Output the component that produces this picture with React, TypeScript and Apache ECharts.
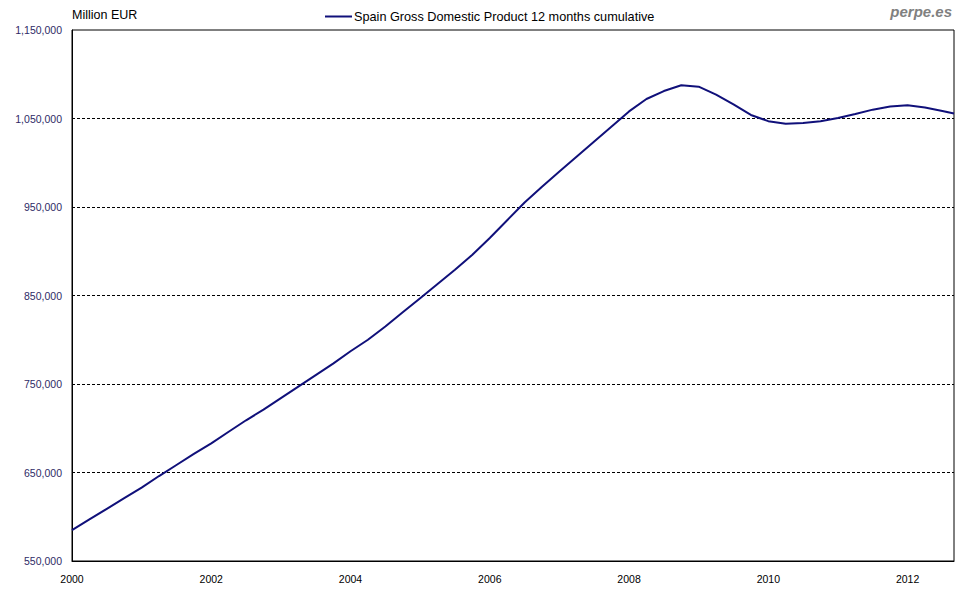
import React, { useEffect, useRef } from "react";
import * as echarts from "echarts";

// Decimal-year positions of the readings (quarterly, last one = Sep 2012)
const periods: number[] = [
  2000.0, 2000.25, 2000.5, 2000.75,
  2001.0, 2001.25, 2001.5, 2001.75,
  2002.0, 2002.25, 2002.5, 2002.75,
  2003.0, 2003.25, 2003.5, 2003.75,
  2004.0, 2004.25, 2004.5, 2004.75,
  2005.0, 2005.25, 2005.5, 2005.75,
  2006.0, 2006.25, 2006.5, 2006.75,
  2007.0, 2007.25, 2007.5, 2007.75,
  2008.0, 2008.25, 2008.5, 2008.75,
  2009.0, 2009.25, 2009.5, 2009.75,
  2010.0, 2010.25, 2010.5, 2010.75,
  2011.0, 2011.25, 2011.5, 2011.75,
  2012.0, 2012.25, 2012.5, 2012.667,
];

// Spain GDP, 12 months cumulative (Million EUR)
const gdp: number[] = [
  585000, 597000, 609000, 621000,
  633000, 646000, 658500, 671000,
  683000, 696000, 709000, 721000,
  734000, 747000, 760000, 773000,
  787000, 800000, 815000, 831000,
  847000, 863000, 879000, 896000,
  915000, 935000, 955000, 973000,
  990000, 1007000, 1024000, 1041000,
  1058000, 1072000, 1081000, 1087500,
  1086000, 1077000, 1066000, 1054000,
  1047000, 1044000, 1045000, 1047000,
  1050500, 1055000, 1060000, 1063500,
  1065000, 1062500, 1058500, 1055600,
];

const yLabelValues: number[] = [550000, 650000, 750000, 850000, 950000, 1050000, 1150000];
const gridValues: number[] = [650000, 750000, 850000, 950000, 1050000];
const xLabelYears: number[] = [2000, 2002, 2004, 2006, 2008, 2010, 2012];

const seriesName = "Spain Gross Domestic Product 12 months cumulative";
const unitLabel = "Million EUR";
const brand = "perpe.es";

const FONT = "'Liberation Sans', Arial, sans-serif";

export default function App() {
  const ref = useRef<HTMLDivElement>(null);

  useEffect(() => {
    if (!ref.current) return;
    const chart = echarts.init(ref.current, undefined, { renderer: "svg" });
    const fmtNum = (v: number) =>
      Math.round(v).toString().replace(/\B(?=(\d{3})+(?!\d))/g, ",");

    chart.setOption({
      animation: false,
      backgroundColor: "#ffffff",
      textStyle: { fontFamily: FONT },
      grid: {
        left: 72,
        top: 30,
        right: 15,
        bottom: 31,
        show: true,
        borderColor: "#000000",
        borderWidth: 1,
        backgroundColor: "#ffffff",
      },
      legend: {
        data: [seriesName],
        left: 320,
        top: 5,
        icon: "rect",
        itemWidth: 27,
        itemHeight: 2,
        textStyle: { color: "#000000", fontSize: 12.7, fontFamily: FONT, padding: [0, 0, 0, -3] },
        selectedMode: false,
      },
      graphic: [
        {
          type: "text",
          left: 72,
          top: 8,
          style: { text: unitLabel, fill: "#000000", font: `12.5px ${FONT}` },
        },
        {
          type: "text",
          right: 17,
          top: 4,
          style: {
            text: brand,
            fill: "#808080",
            font: `italic bold 15px ${FONT}`,
          },
        },
      ],
      xAxis: {
        type: "value",
        min: 2000,
        max: 2012.667,
        interval: 2,
        axisLine: { show: true, lineStyle: { color: "#000000", width: 1 } },
        axisTick: { show: false },
        splitLine: { show: false },
        axisLabel: {
          showMaxLabel: false,
          color: "#000000",
          fontSize: 10.5,
          fontFamily: FONT,
          margin: 12,
          formatter: (v: number) =>
            xLabelYears.indexOf(Math.round(v)) >= 0 && Math.abs(v - Math.round(v)) < 1e-6
              ? String(Math.round(v))
              : "",
        },
      },
      yAxis: {
        type: "value",
        min: 550000,
        max: 1150000,
        interval: 50000,
        axisLine: { show: true, lineStyle: { color: "#000000", width: 1 } },
        axisTick: { show: false },
        splitLine: { show: false },
        axisLabel: {
          color: "#2e2a66",
          fontSize: 10.5,
          fontFamily: FONT,
          margin: 10,
          formatter: (v: number) =>
            yLabelValues.indexOf(Math.round(v)) >= 0 ? fmtNum(v) : "",
        },
      },
      series: [
        {
          name: seriesName,
          type: "line",
          data: periods.map((p, i) => [p, gdp[i]]),
          showSymbol: false,
          symbol: "none",
          lineStyle: { color: "#10107a", width: 2 },
          itemStyle: { color: "#10107a" },
          z: 3,
          markLine: {
            silent: true,
            symbol: "none",
            label: { show: false },
            lineStyle: { color: "#000000", type: [3, 2], width: 1 },
            z: 1,
            data: gridValues.map((v) => ({ yAxis: v })),
          },
        },
      ],
    });

    return () => {
      chart.dispose();
    };
  }, []);

  return (
    <div
      ref={ref}
      style={{ position: "fixed", left: 0, top: 0, width: 969, height: 592 }}
    />
  );
}
